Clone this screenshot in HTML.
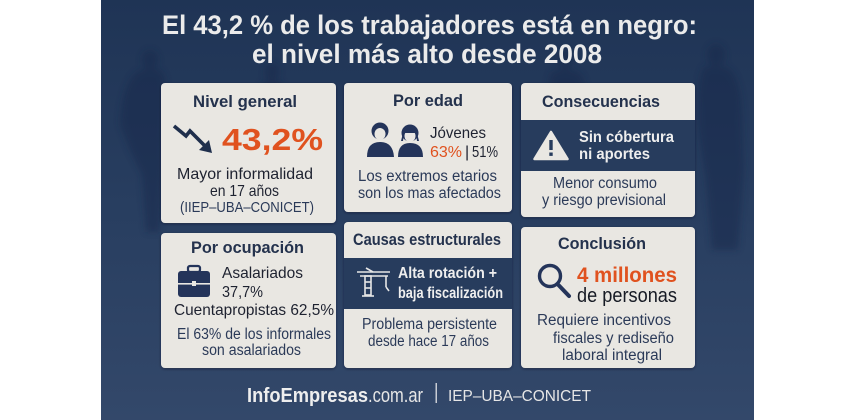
<!DOCTYPE html>
<html><head><meta charset="utf-8"><style>
html,body{margin:0;padding:0;background:#fff;}
svg{display:block;}
text{font-family:"Liberation Sans",sans-serif;}
</style></head><body>
<svg width="854" height="420" viewBox="0 0 854 420" xmlns="http://www.w3.org/2000/svg">
<defs>
<linearGradient id="bg" x1="0" y1="0" x2="0" y2="1">
<stop offset="0" stop-color="#1f3455"/>
<stop offset="0.5" stop-color="#283e60"/>
<stop offset="1" stop-color="#33486a"/>
</linearGradient>
<filter id="blur" x="-50%" y="-50%" width="200%" height="200%"><feGaussianBlur stdDeviation="3.5"/></filter>
<filter id="sh" x="-10%" y="-10%" width="120%" height="130%"><feDropShadow dx="0" dy="1" stdDeviation="1.2" flood-color="#0a1428" flood-opacity="0.5"/></filter>
</defs>
<rect x="0" y="0" width="854" height="420" fill="#ffffff"/>
<rect x="101" y="0" width="653" height="420" fill="url(#bg)"/>
<!-- silhouettes -->
<g fill="#16284a" opacity="0.45" filter="url(#blur)">
<ellipse cx="150" cy="60" rx="8" ry="10"/>
<path d="M140 70 Q150 68 160 70 Q166 74 166 90 L164 160 L160 232 L146 232 L142 175 L130 150 L120 125 Q122 80 140 70 Z"/>
<ellipse cx="716" cy="55" rx="9" ry="11"/>
<path d="M704 67 Q716 64 728 68 Q740 76 742 110 L744 170 L738 250 L712 250 L706 180 L698 130 Q696 80 704 67 Z"/>
<ellipse cx="565" cy="60" rx="8" ry="10"/>
<path d="M552 72 Q565 68 578 72 Q586 78 588 100 L588 120 L548 120 L548 95 Q548 78 552 72 Z"/>
<ellipse cx="272" cy="72" rx="7" ry="9"/>
<path d="M262 82 Q272 79 282 82 L288 100 L256 100 Z"/>
</g>
<!-- Title -->
<g fill="#ebebeb" font-weight="bold" font-size="27">
<text x="162" y="34" textLength="535" lengthAdjust="spacingAndGlyphs">El 43,2 % de los trabajadores está en negro:</text>
<text x="252" y="63" textLength="350" lengthAdjust="spacingAndGlyphs">el nivel más alto desde 2008</text>
</g>
<!-- Cards -->
<g fill="#e9e7e2" filter="url(#sh)">
<rect x="161" y="83" width="175" height="140" rx="4"/>
<rect x="344" y="83" width="168" height="129" rx="4"/>
<rect x="521" y="83" width="174" height="134" rx="4"/>
<rect x="161" y="233" width="175" height="135" rx="4"/>
<rect x="344" y="222" width="168" height="146" rx="4"/>
<rect x="521" y="227" width="174" height="141" rx="4"/>
</g>
<!-- dark bands -->
<rect x="521" y="120" width="174" height="51" fill="#273c5d"/>
<rect x="344" y="258" width="168" height="51" fill="#273c5d"/>

<!-- Card 1 -->
<text x="193" y="107" font-size="17" font-weight="bold" fill="#24324d" textLength="104" lengthAdjust="spacingAndGlyphs">Nivel general</text>
<g stroke="#1f2f4c" stroke-width="3.6" fill="none" stroke-linejoin="miter" stroke-linecap="butt">
<polyline points="174,126 186,136 190,131 205,146"/>
</g>
<polygon points="212,153 199,150 209,140" fill="#1f2f4c"/>
<text x="222" y="150" font-size="31" font-weight="bold" fill="#e0521f" textLength="101" lengthAdjust="spacingAndGlyphs">43,2%</text>
<g fill="#1e2230" font-size="16">
<text x="177" y="179" textLength="136" lengthAdjust="spacingAndGlyphs">Mayor informalidad</text>
<text x="210" y="196" textLength="69" lengthAdjust="spacingAndGlyphs">en 17 años</text>
</g>
<text x="180" y="212" font-size="15" fill="#2b3a58" textLength="134" lengthAdjust="spacingAndGlyphs">(IIEP–UBA–CONICET)</text>

<!-- Card 2 -->
<text x="393" y="106" font-size="17" font-weight="bold" fill="#24324d" textLength="70" lengthAdjust="spacingAndGlyphs">Por edad</text>
<g fill="#24345a">
<path d="M367 157 Q367 142 380 142 Q393 142 394 157 Z"/>
<circle cx="380" cy="131" r="8.5"/>
<path d="M398 157 Q398 143 410 143 Q423 143 423 157 Z"/>
<circle cx="410" cy="133" r="8.5"/>
</g>
<g fill="#e9e7e2">
<ellipse cx="380" cy="134" rx="5.5" ry="6"/>
<ellipse cx="410" cy="136" rx="5.5" ry="6"/>
</g>
<g fill="#24345a">
<path d="M373 130 Q380 123 387 130 L387 127 Q380 119 373 127 Z"/>
<path d="M403 133 Q410 125 417 133 L419 141 L417 141 L416 133 L404 133 L403 141 L401 141 Z"/>
</g>
<text x="430" y="138" font-size="16" fill="#1e2230" textLength="56" lengthAdjust="spacingAndGlyphs">Jóvenes</text>
<text x="430" y="157" font-size="16" fill="#e0521f" textLength="32" lengthAdjust="spacingAndGlyphs">63%</text>
<text x="465" y="157" font-size="16" fill="#1e2230">|</text>
<text x="472" y="157" font-size="16" fill="#1e2230" textLength="26" lengthAdjust="spacingAndGlyphs">51%</text>
<g fill="#2b3a58" font-size="15.5">
<text x="358" y="181" textLength="139" lengthAdjust="spacingAndGlyphs">Los extremos etarios</text>
<text x="358" y="198" textLength="143" lengthAdjust="spacingAndGlyphs">son los mas afectados</text>
</g>

<!-- Card 3 -->
<text x="542" y="107" font-size="17" font-weight="bold" fill="#24324d" textLength="118" lengthAdjust="spacingAndGlyphs">Consecuencias</text>
<path d="M551 132 L567.5 159 L534.5 159 Z" fill="#e9e7e2" stroke="#e9e7e2" stroke-width="2.5" stroke-linejoin="round"/>
<rect x="549.3" y="140" width="3.4" height="10" fill="#273c5d"/>
<rect x="549.3" y="152.5" width="3.4" height="3.4" fill="#273c5d"/>
<g fill="#eeeeee" font-size="15.5" font-weight="bold">
<text x="579" y="142" textLength="95" lengthAdjust="spacingAndGlyphs">Sin cóbertura</text>
<text x="579" y="159" textLength="71" lengthAdjust="spacingAndGlyphs">ni aportes</text>
</g>
<g fill="#2b3a58" font-size="15.5">
<text x="553" y="188" textLength="104" lengthAdjust="spacingAndGlyphs">Menor consumo</text>
<text x="542" y="205" textLength="124" lengthAdjust="spacingAndGlyphs">y riesgo previsional</text>
</g>

<!-- Card 4 -->
<text x="191" y="253" font-size="17" font-weight="bold" fill="#24324d" textLength="113" lengthAdjust="spacingAndGlyphs">Por ocupación</text>
<rect x="188" y="266" width="12" height="6" rx="2" fill="none" stroke="#24345a" stroke-width="2.2"/>
<rect x="178" y="271" width="32" height="26" rx="3" fill="#24345a"/>
<rect x="178" y="283" width="32" height="1.6" fill="#e9e7e2"/>
<rect x="192" y="281" width="4" height="5" fill="#e9e7e2"/>
<g fill="#1e2230" font-size="16">
<text x="222" y="278" textLength="81" lengthAdjust="spacingAndGlyphs">Asalariados</text>
<text x="222" y="297" textLength="41" lengthAdjust="spacingAndGlyphs">37,7%</text>
<text x="174" y="315" textLength="160" lengthAdjust="spacingAndGlyphs">Cuentapropistas 62,5%</text>
</g>
<g fill="#2b3a58" font-size="15.5">
<text x="177" y="339" textLength="154" lengthAdjust="spacingAndGlyphs">El 63% de los informales</text>
<text x="202" y="355" textLength="99" lengthAdjust="spacingAndGlyphs">son asalariados</text>
</g>

<!-- Card 5 -->
<text x="353" y="245" font-size="17" font-weight="bold" fill="#24324d" textLength="148" lengthAdjust="spacingAndGlyphs">Causas estructurales</text>
<g stroke="#e6e6e6" stroke-width="1.6" fill="none">
<line x1="357" y1="272" x2="390" y2="272"/>
<line x1="360" y1="276" x2="388" y2="276"/>
<line x1="366" y1="268" x2="373" y2="272"/>
<rect x="365" y="276" width="6" height="19"/>
<line x1="362" y1="296" x2="374" y2="296"/>
<line x1="386" y1="276" x2="386" y2="287"/>
<path d="M386 287 L389 291"/>
<line x1="365" y1="282" x2="371" y2="282"/>
<line x1="365" y1="288" x2="371" y2="288"/>
</g>
<g fill="#eeeeee" font-size="15.5" font-weight="bold">
<text x="398" y="278" textLength="99" lengthAdjust="spacingAndGlyphs">Alta rotación +</text>
<text x="398" y="298" textLength="105" lengthAdjust="spacingAndGlyphs">baja fiscalización</text>
</g>
<g fill="#2b3a58" font-size="15.5">
<text x="362" y="329" textLength="135" lengthAdjust="spacingAndGlyphs">Problema persistente</text>
<text x="368" y="346" textLength="121" lengthAdjust="spacingAndGlyphs">desde hace 17 años</text>
</g>

<!-- Card 6 -->
<text x="558" y="249" font-size="17" font-weight="bold" fill="#24324d" textLength="88" lengthAdjust="spacingAndGlyphs">Conclusión</text>
<circle cx="550" cy="276" r="10.5" fill="none" stroke="#24345a" stroke-width="3.4"/>
<line x1="557.5" y1="284" x2="569" y2="296" stroke="#24345a" stroke-width="4" stroke-linecap="round"/>
<text x="577" y="282" font-size="21" font-weight="bold" fill="#e0521f" textLength="100" lengthAdjust="spacingAndGlyphs">4 millones</text>
<text x="577" y="302" font-size="20" fill="#161a24" textLength="100" lengthAdjust="spacingAndGlyphs">de personas</text>
<g fill="#2b3a58" font-size="15.5">
<text x="537" y="325" textLength="134" lengthAdjust="spacingAndGlyphs">Requiere incentivos</text>
<text x="553" y="343" textLength="121" lengthAdjust="spacingAndGlyphs">fiscales y rediseño</text>
<text x="562" y="360" textLength="100" lengthAdjust="spacingAndGlyphs">laboral integral</text>
</g>

<!-- Footer -->
<text x="247" y="402" font-size="20" font-weight="bold" fill="#eeeeee" textLength="121" lengthAdjust="spacingAndGlyphs">InfoEmpresas</text>
<text x="368" y="402" font-size="20" fill="#e6e6e6" textLength="55" lengthAdjust="spacingAndGlyphs">.com.ar</text>
<rect x="435.5" y="383" width="1.5" height="20" fill="#c8ccd4"/>
<text x="448" y="401" font-size="16" fill="#e6e6e6" textLength="143" lengthAdjust="spacingAndGlyphs">IEP–UBA–CONICET</text>
</svg>
</body></html>
